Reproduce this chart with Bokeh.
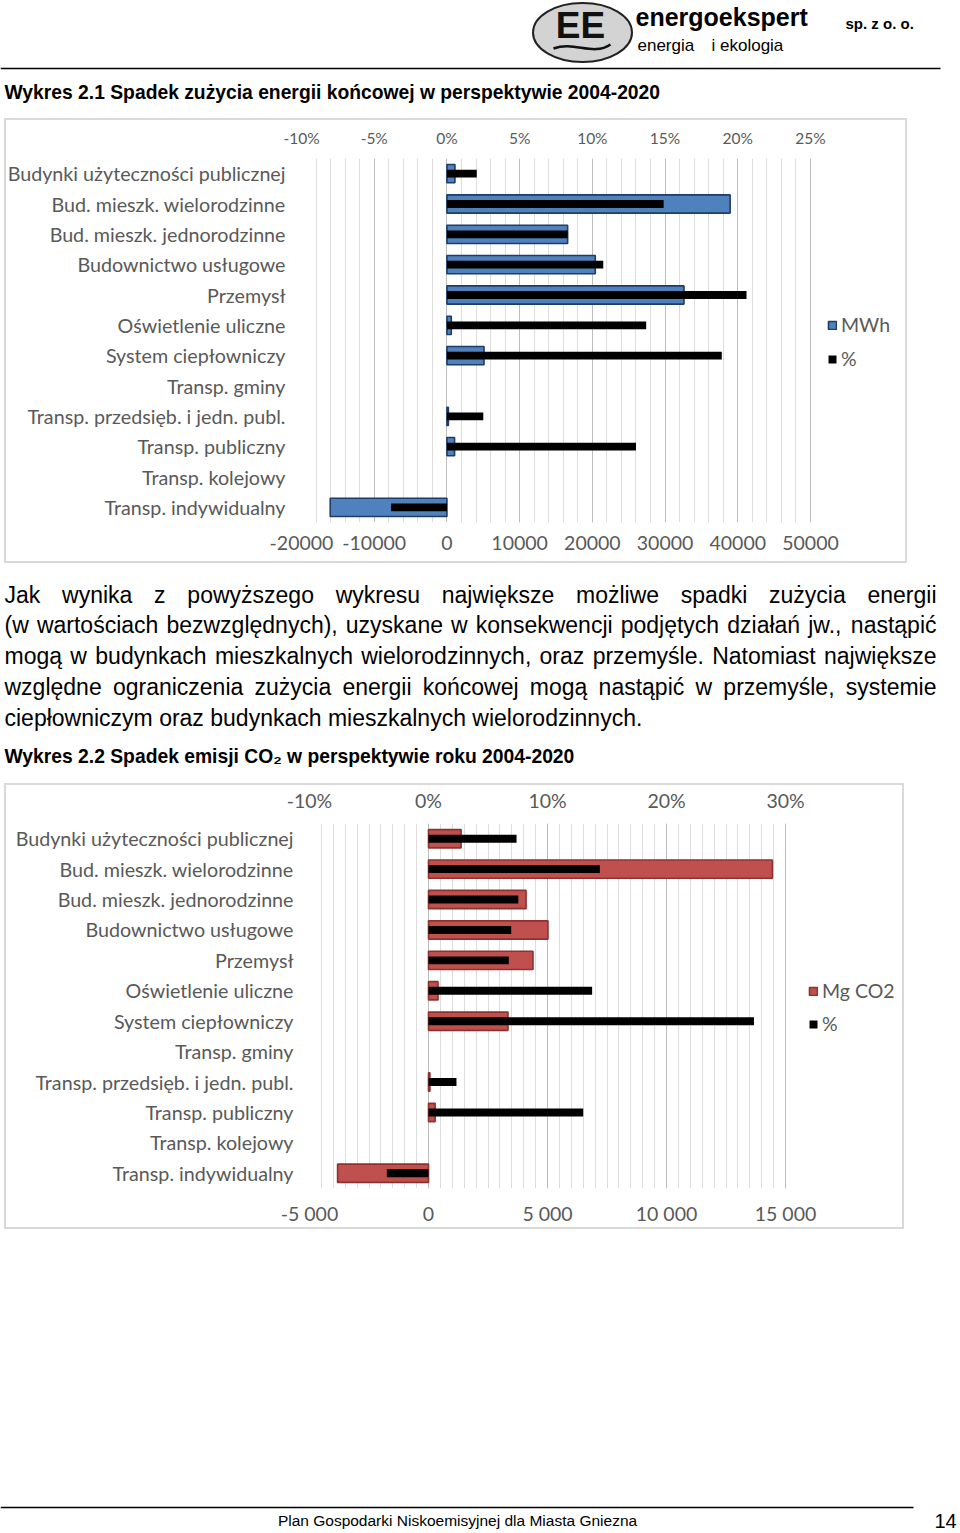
import numpy as np
from bokeh.plotting import figure
from bokeh.models import (Range1d, FactorRange, LinearAxis, FixedTicker, Legend, LegendItem,
                          ColumnDataSource, Spacer)
from bokeh.layouts import column, row
from bokeh.embed import file_html
from bokeh.resources import INLINE
from bokeh.core.properties import value

# ---------------- data ----------------
categories = [
    "Budynki użyteczności publicznej",
    "Bud. mieszk. wielorodzinne",
    "Bud. mieszk. jednorodzinne",
    "Budownictwo usługowe",
    "Przemysł",
    "Oświetlenie uliczne",
    "System ciepłowniczy",
    "Transp. gminy",
    "Transp. przedsięb. i jedn. publ.",
    "Transp. publiczny",
    "Transp. kolejowy",
    "Transp. indywidualny",
]
energy_mwh = [1100, 38950, 16600, 20400, 32600, 600, 5100, None, 200, 1050, None, -16050]
energy_pct = [2.05, 14.9, 8.3, 10.75, 20.6, 13.7, 18.9, None, 2.5, 13.0, None, -3.84]
co2_mg = [1370, 14450, 4100, 5020, 4390, 400, 3340, None, 60, 280, None, -3820]
co2_pct = [7.4, 14.4, 7.55, 6.95, 6.75, 13.75, 27.35, None, 2.35, 13.0, None, -3.5]

energy_mwh_ticks = [-20000, -10000, 0, 10000, 20000, 30000, 40000, 50000]
energy_mwh_labels = ["-20000", "-10000", "0", "10000", "20000", "30000", "40000", "50000"]
energy_pct_ticks = [-10, -5, 0, 5, 10, 15, 20, 25]
energy_pct_labels = ["-10%", "-5%", "0%", "5%", "10%", "15%", "20%", "25%"]
co2_mg_ticks = [-5000, 0, 5000, 10000, 15000]
co2_mg_labels = ["-5 000", "0", "5 000", "10 000", "15 000"]
co2_pct_ticks = [-10, 0, 10, 20, 30]
co2_pct_labels = ["-10%", "0%", "10%", "20%", "30%"]

paragraph = [
    "Jak wynika z powyższego wykresu największe możliwe spadki zużycia energii",
    "(w wartościach bezwzględnych), uzyskane w konsekwencji podjętych działań jw., nastąpić",
    "mogą w budynkach mieszkalnych wielorodzinnych, oraz przemyśle. Natomiast największe",
    "względne ograniczenia zużycia energii końcowej mogą nastąpić w przemyśle, systemie",
    "ciepłowniczym oraz budynkach mieszkalnych wielorodzinnych.",
]

LABEL_FONT = "Lato"
GRAY = "#595959"


def to_nan(a):
    return np.array([np.nan if v is None else v for v in a], dtype=float)


def bar_chart(vals, pcts, x_lo, x_hi, x_ticks, x_labels, x_step, p_lo, p_hi, p_ticks, p_labels,
              fill, edge, series_label, width, height, left, top_b, bottom_b, axis_px,
              top_font, leg_xy, leg_spacing):
    # the plotting frame runs to the right edge of the box so that the legend sits inside it;
    # the axis span (x_lo..x_hi) keeps its pixel width axis_px
    frame_px = width - left - 4
    x_end = x_lo + (x_hi - x_lo) * frame_px / axis_px
    p_end = p_lo + (p_hi - p_lo) * frame_px / axis_px
    src = ColumnDataSource(dict(cat=categories, v=to_nan(vals), pc=to_nan(pcts)))
    p = figure(width=width, height=height, x_range=Range1d(x_lo, x_end),
               y_range=FactorRange(factors=categories[::-1]),
               output_backend="svg", toolbar_location=None,
               min_border_left=left, min_border_right=4,
               min_border_top=top_b, min_border_bottom=bottom_b,
               background_fill_color="white", border_fill_alpha=0,
               styles={"background-color": "white",
                       "box-shadow": "inset 0 0 0 2px #d9d9d9"})
    p.extra_x_ranges = {"pct": Range1d(p_lo, p_end)}
    r1 = p.hbar(y="cat", left=0, right="v", height=0.6, source=src,
                fill_color=fill, line_color=edge, line_width=1.6)
    r2 = p.hbar(y="cat", left=0, right="pc", height=0.26, source=src,
                fill_color="black", line_color=None, x_range_name="pct")

    xa = p.xaxis[0]
    xa.ticker = FixedTicker(ticks=x_ticks)
    xa.major_label_overrides = dict(zip(x_ticks, x_labels))
    top = LinearAxis(x_range_name="pct", ticker=FixedTicker(ticks=p_ticks),
                     major_label_overrides=dict(zip(p_ticks, p_labels)))
    p.add_layout(top, "above")
    ya = p.yaxis[0]
    for ax in (xa, top, ya):
        ax.axis_line_color = None
        ax.major_tick_line_color = None
        ax.minor_tick_line_color = None
        ax.major_tick_out = 0
        ax.major_tick_in = 0
        ax.major_label_text_color = GRAY
        ax.major_label_text_font = LABEL_FONT
        ax.major_label_text_font_size = "19.5px"
    ya.major_label_text_font_size = "19.7px"
    top.major_label_text_font_size = top_font
    xa.major_label_standoff = 13
    top.major_label_standoff = 12
    ya.major_label_standoff = 16

    p.ygrid.visible = False
    p.xgrid.ticker = FixedTicker(ticks=x_ticks, minor_ticks=list(range(x_lo, x_hi + 1, x_step)))
    p.xgrid.grid_line_color = "#bdbdbd"
    p.xgrid.minor_grid_line_color = "#dcdcdc"
    p.outline_line_color = None

    leg = Legend(items=[LegendItem(label=series_label, renderers=[r1]),
                        LegendItem(label="%", renderers=[r2])],
                 location=leg_xy, margin=0, padding=0, spacing=leg_spacing,
                 glyph_width=10, glyph_height=10, label_standoff=4, label_height=20,
                 label_text_font=LABEL_FONT, label_text_font_size="19.5px",
                 label_text_color=GRAY, border_line_color=None, background_fill_alpha=0)
    p.add_layout(leg, "center")
    return p


def canvas(y_top, y_bottom):
    p = figure(width=960, height=y_bottom - y_top, x_range=Range1d(0, 960),
               y_range=Range1d(y_bottom, y_top), x_axis_type=None, y_axis_type=None,
               output_backend="svg", toolbar_location=None, min_border=0,
               background_fill_color="white", border_fill_color="white")
    p.outline_line_color = None
    return p


# ---------------- header ----------------
head = canvas(0, 118)
head.ellipse(x=[582], y=[32], width=[99], height=[59], fill_color="#d3d3d3",
             line_color="#222222", line_width=2)
head.text(x=[580], y=[25], text=["EE"], text_font=value("Liberation Sans"),
          text_font_style="bold", text_font_size="37px", text_align="center",
          text_baseline="middle", text_color="#111111")
head.bezier(x0=[553], y0=[48], x1=[610], y1=[44], cx0=[574], cy0=[40], cx1=[592], cy1=[56],
            line_color="#111111", line_width=2.5)
head.text(x=[635], y=[16], text=["energoekspert"], text_font=value("Liberation Sans"),
          text_font_style="bold", text_font_size="25px", text_baseline="middle", text_color="black")
head.text(x=[637, 711], y=[45, 45], text=["energia", "i ekologia"], text_font=value("Liberation Sans"),
          text_font_size="17px", text_baseline="middle", text_color="black")
head.text(x=[845], y=[23], text=["sp. z o. o."], text_font=value("Liberation Sans"),
          text_font_style="bold", text_font_size="15px", text_baseline="middle", text_color="black")
head.line(x=[0, 940], y=[68, 68], line_color="black", line_width=1.5)
head.text(x=[4], y=[92], text=["Wykres 2.1 Spadek zużycia energii końcowej w perspektywie 2004-2020"],
          text_font=value("Liberation Sans"), text_font_style="bold", text_font_size="19.3px",
          text_baseline="middle", text_color="black")

# ---------------- chart 1 ----------------
chart1 = bar_chart(energy_mwh, energy_pct, -20000, 50000, energy_mwh_ticks, energy_mwh_labels, 2000,
                   -10, 25, energy_pct_ticks, energy_pct_labels,
                   "#4f81bd", "#1f3c68", "MWh", 903, 445, 297, 40, 41, 509, "15.5px",
                   (526, 152), 11)

# ---------------- paragraph ----------------
ARIAL = {' ': 278, 'a': 556, 'b': 556, 'c': 500, 'd': 556, 'e': 556, 'f': 278, 'g': 556, 'h': 556,
         'i': 222, 'j': 222, 'k': 500, 'l': 222, 'm': 833, 'n': 556, 'o': 556, 'p': 556, 'q': 556,
         'r': 333, 's': 500, 't': 278, 'u': 556, 'v': 500, 'w': 722, 'x': 500, 'y': 500, 'z': 500,
         'ą': 556, 'ć': 500, 'ę': 556, 'ł': 222, 'ń': 556, 'ó': 556, 'ś': 500, 'ź': 500, 'ż': 500,
         'J': 500, 'N': 722, '(': 333, ')': 333, ',': 278, '.': 278}
FS = 23.0


def tw(s):
    return sum(ARIAL.get(ch, 556) for ch in s) * FS / 1000.0


mid = canvas(563, 783)
wx, wy, wt = [], [], []
left_x, right_x = 4.0, 936.0
for li, line in enumerate(paragraph):
    words = line.split(" ")
    widths = [tw(w) for w in words]
    if li < len(paragraph) - 1:
        gap = (right_x - left_x - sum(widths)) / (len(words) - 1)
    else:
        gap = tw(" ")
    x = left_x
    for w, wd in zip(words, widths):
        wx.append(x)
        wy.append(594 + li * 30.75)
        wt.append(w)
        x += wd + gap
mid.text(x=wx, y=wy, text=wt, text_font=value("Liberation Sans"), text_font_size="23px",
         text_baseline="middle", text_color="black")
mid.text(x=[4], y=[756], text=["Wykres 2.2 Spadek emisji CO₂ w perspektywie roku 2004-2020"],
         text_font=value("Liberation Sans"), text_font_style="bold", text_font_size="19.3px",
         text_baseline="middle", text_color="black")

# ---------------- chart 2 ----------------
chart2 = bar_chart(co2_mg, co2_pct, -5000, 15000, co2_mg_ticks, co2_mg_labels, 500,
                   -10, 30, co2_pct_ticks, co2_pct_labels,
                   "#c0504d", "#8e3230", "Mg CO2", 900, 446, 305, 40, 41, 476, "19.5px",
                   (499, 153), 10)

# ---------------- footer ----------------
foot = canvas(1229, 1533)
foot.line(x=[0, 913], y=[1507, 1507], line_color="black", line_width=1.5)
foot.text(x=[457], y=[1520], text=["Plan Gospodarki Niskoemisyjnej dla Miasta Gniezna"],
          text_font=value("Liberation Sans"), text_font_size="15.5px", text_align="center",
          text_baseline="middle", text_color="black")
foot.text(x=[945], y=[1520], text=["14"], text_font=value("Liberation Sans"), text_font_size="20px",
          text_align="center", text_baseline="middle", text_color="black")

layout = column(
    head,
    row(Spacer(width=4, height=445), chart1),
    mid,
    row(Spacer(width=4, height=446), chart2),
    foot,
)

open("out.html", "w").write(file_html(layout, INLINE))
